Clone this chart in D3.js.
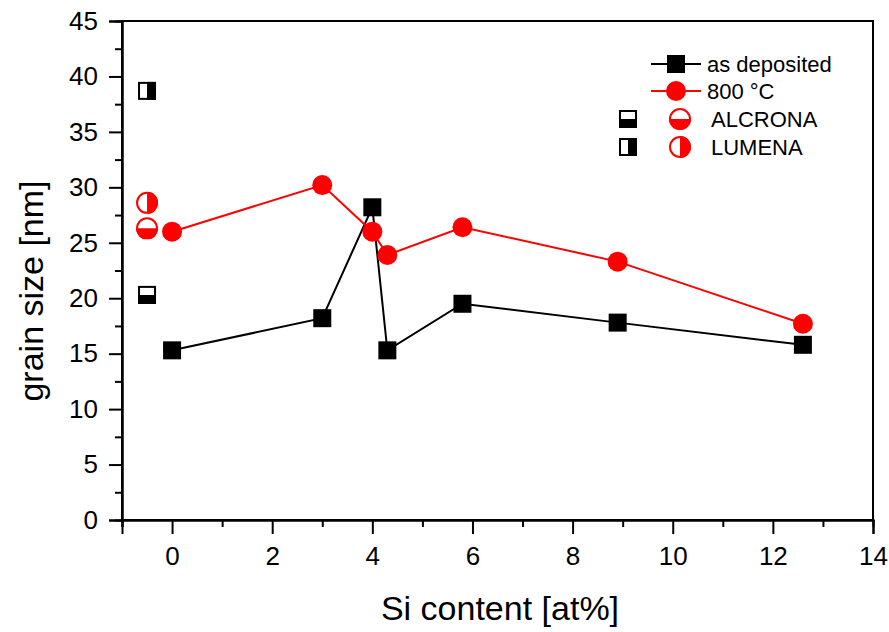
<!DOCTYPE html>
<html>
<head>
<meta charset="utf-8">
<script src="https://cdn.jsdelivr.net/npm/d3@7"></script>
<style>
  body { margin: 0; background: #fff; }
  text { font-family: "Liberation Sans", Arial, sans-serif; }
</style>
</head>
<body>
<div id="chart"></div>
<script>
// data
const siContent = [0, 3, 4, 4.3, 5.8, 8.9, 12.6];
const asDeposited = [15.3, 18.2, 28.2, 15.3, 19.5, 17.8, 15.8];
const annealed800 = [26.0, 30.2, 26.0, 23.9, 26.4, 23.3, 17.7];
// reference coatings, drawn at x = -0.5
const refX = -0.5;
const refNames = ["ALCRONA", "LUMENA"];
const refSquare = [20.3, 38.7];
const refCircle = [26.3, 28.6];
const xTicks = [0, 2, 4, 6, 8, 10, 12, 14];
const yTicks = [0, 5, 10, 15, 20, 25, 30, 35, 40, 45];

const width = 889, height = 632;
const margin = {left: 122, right: 16, top: 21, bottom: 112};

const svg = d3.select("#chart").append("svg")
    .attr("width", width).attr("height", height);

const x = d3.scaleLinear().domain([-1, 14]).range([margin.left, width - margin.right]);
const y = d3.scaleLinear().domain([0, 45]).range([height - margin.bottom, margin.top]);

const defs = svg.append("defs");
// clip halves for the half-filled symbols
function halfClip(id, dir) {
  const cp = defs.append("clipPath").attr("id", id).attr("clipPathUnits", "objectBoundingBox");
  if (dir == "bottom") cp.append("rect").attr("x", 0).attr("y", 0.5).attr("width", 1).attr("height", 0.5);
  else cp.append("rect").attr("x", 0.5).attr("y", 0).attr("width", 0.5).attr("height", 1);
}
halfClip("hb", "bottom");
halfClip("hr", "right");

// frame
svg.append("rect")
    .attr("x", x(-1)).attr("y", y(45))
    .attr("width", x(14) - x(-1)).attr("height", y(0) - y(45))
    .attr("fill", "none").attr("stroke", "#000").attr("stroke-width", 2);

// axes, ticks outward, minor ticks in between
svg.append("g").attr("transform", `translate(0,${y(0)})`)
    .call(d3.axisBottom(x).tickValues(xTicks).tickSize(14).tickPadding(13).tickFormat(d3.format("d")));
svg.append("g").attr("transform", `translate(0,${y(0)})`)
    .call(d3.axisBottom(x).tickValues(d3.range(-1, 14, 2)).tickSize(7).tickFormat(""));
svg.append("g").attr("transform", `translate(${x(-1)},0)`)
    .call(d3.axisLeft(y).tickValues(yTicks).tickSize(13).tickPadding(11));
svg.append("g").attr("transform", `translate(${x(-1)},0)`)
    .call(d3.axisLeft(y).tickValues(d3.range(2.5, 45, 5)).tickSize(7).tickFormat(""));
svg.selectAll(".domain").attr("stroke-width", 2);
svg.selectAll(".tick line").attr("stroke-width", 2);
svg.selectAll(".tick text").attr("fill", "#000")
    .style("font-size", "26px")
    .style("font-family", "Liberation Sans, Arial, sans-serif");

// axis titles
svg.append("text").attr("x", 500).attr("y", 620)
    .attr("text-anchor", "middle").style("font-size", "34px").text("Si content [at%]");
svg.append("text").attr("transform", `translate(43,291) rotate(-90)`)
    .attr("text-anchor", "middle").style("font-size", "34px").text("grain size [nm]");

const line = d3.line().x(d => x(d[0])).y(d => y(d[1]));
const dep = siContent.map((s, i) => [s, asDeposited[i]]);
const ann = siContent.map((s, i) => [s, annealed800[i]]);
const sq = 18, cr = 10;

svg.append("path").datum(dep).attr("d", line)
    .attr("fill", "none").attr("stroke", "#000").attr("stroke-width", 2);
svg.selectAll(".sq").data(dep).enter().append("rect")
    .attr("x", d => x(d[0]) - sq / 2).attr("y", d => y(d[1]) - sq / 2)
    .attr("width", sq).attr("height", sq).attr("fill", "#000");

svg.append("path").datum(ann).attr("d", line)
    .attr("fill", "none").attr("stroke", "red").attr("stroke-width", 2);
svg.selectAll(".ci").data(ann).enter().append("circle")
    .attr("cx", d => x(d[0])).attr("cy", d => y(d[1])).attr("r", cr).attr("fill", "red");

// half-filled symbols
function halfSquare(g, cx, cy, clip) {
  g.append("rect").attr("x", cx - sq / 2 + 1).attr("y", cy - sq / 2 + 1)
      .attr("width", sq - 2).attr("height", sq - 2)
      .attr("fill", "#fff").attr("stroke", "#000").attr("stroke-width", 2);
  g.append("rect").attr("x", cx - sq / 2).attr("y", cy - sq / 2)
      .attr("width", sq).attr("height", sq).attr("fill", "#000").attr("clip-path", `url(#${clip})`);
}
function halfCircle(g, cx, cy, clip) {
  g.append("circle").attr("cx", cx).attr("cy", cy).attr("r", cr)
      .attr("fill", "#fff").attr("stroke", "red").attr("stroke-width", 2);
  g.append("circle").attr("cx", cx).attr("cy", cy).attr("r", cr + 1)
      .attr("fill", "red").attr("clip-path", `url(#${clip})`);
}
const clips = ["hb", "hr"];
refNames.forEach((n, i) => {
  halfSquare(svg, x(refX), y(refSquare[i]), clips[i]);
  halfCircle(svg, x(refX), y(refCircle[i]), clips[i]);
});

// legend
const lg = svg.append("g").style("font-size", "22px");
[["as deposited", "#000", "sq"], ["800 °C", "red", "ci"]].forEach((d, i) => {
  const ly = 64 + i * 27;
  lg.append("line").attr("x1", 651).attr("x2", 701).attr("y1", ly).attr("y2", ly)
      .attr("stroke", d[1]).attr("stroke-width", 2);
  if (d[2] == "sq") lg.append("rect").attr("x", 676 - sq / 2).attr("y", ly - sq / 2)
      .attr("width", sq).attr("height", sq).attr("fill", d[1]);
  else lg.append("circle").attr("cx", 676).attr("cy", ly).attr("r", cr).attr("fill", d[1]);
  lg.append("text").attr("x", 707).attr("y", ly + 8).text(d[0]);
});
refNames.forEach((n, i) => {
  const ly = 119 + i * 28;
  halfSquare(lg, 628, ly, clips[i]);
  halfCircle(lg, 680, ly, clips[i]);
  lg.append("text").attr("x", 711).attr("y", ly + 8).text(n);
});
</script>
</body>
</html>
